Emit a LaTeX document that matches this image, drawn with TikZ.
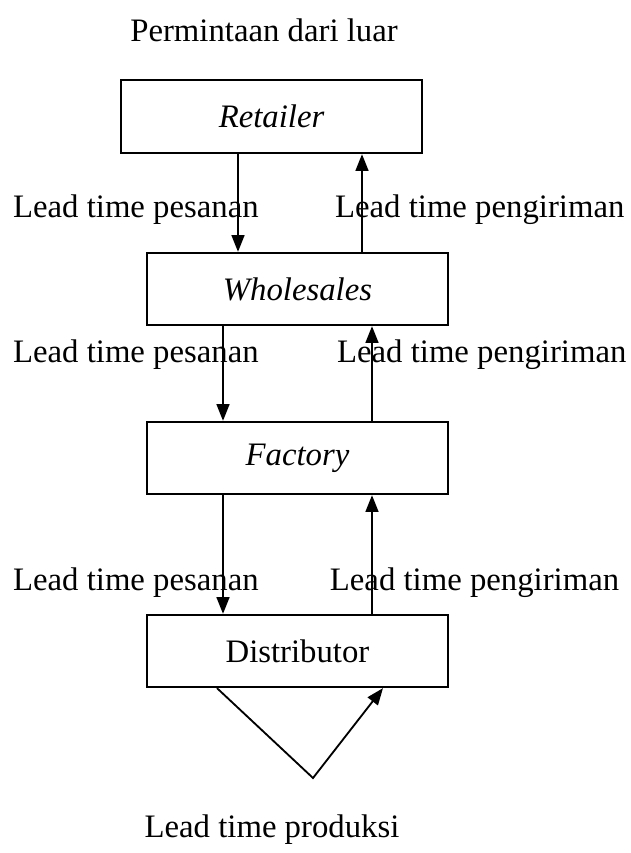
\documentclass[tikz,border=0pt]{standalone}
\usepackage{fontspec}
\setmainfont{Liberation Serif}
\usetikzlibrary{arrows.meta}
\begin{document}
\begin{tikzpicture}[line width=1.6pt,>={Triangle[length=0.42cm,width=0.32cm]},
  every node/.style={font=\fontsize{23.3}{28}\selectfont},
  box/.style={rectangle,draw,inner sep=0pt,minimum width=7.525cm,minimum height=1.8cm},
  lbl/.style={inner sep=0pt,anchor=west}]
\useasboundingbox (0,0) rectangle (15.775,-21.325);
\node (demand) at (6.6,-0.75) {Permintaan dari luar};
\node[box,minimum height=1.825cm] (retailer) at (6.79,-2.9125) {\textit{Retailer}};
\node[box] (wholesales) at (7.4375,-7.225) {\textit{Wholesales}};
\node[box] (factory) at (7.4375,-11.45) {\textit{Factory}};
\node[box] (distributor) at (7.4375,-16.275) {Distributor};
% x positions of the arrows
\coordinate (down1) at (5.95,0);
\coordinate (up1) at (9.05,0);
\coordinate (down2) at (5.575,0);
\coordinate (up2) at (9.3,0);
% labels
\node[lbl] (order1) at (0.3,-5.25) {Lead time pesanan};
\node[lbl] (ship1) at (8.35,-5.25) {Lead time pengiriman};
\node[lbl] (order2) at (0.3,-8.875) {Lead time pesanan};
\node[lbl] (ship2) at (8.4,-8.875) {Lead time pengiriman};
\node[lbl] (order3) at (0.3,-14.575) {Lead time pesanan};
\node[lbl] (ship3) at (8.22,-14.575) {Lead time pengiriman};
\node (production) at (6.8,-20.75) {Lead time produksi};
\draw[->] (retailer.south -| down1) -- (wholesales.north -| down1);
\draw[->] (wholesales.north -| up1) -- (retailer.south -| up1);
\draw[->] (wholesales.south -| down2) -- (factory.north -| down2);
\draw[->] (factory.north -| up2) -- (wholesales.south -| up2);
\draw[->] (factory.south -| down2) -- (distributor.north -| down2);
\draw[->] (distributor.north -| up2) -- (factory.south -| up2);
% production loop
\coordinate (loopleft) at (5.425,0);
\coordinate (loopright) at (9.575,0);
\coordinate (loopbottom) at (7.825,-19.45);
\draw[->,line width=1.3pt] (distributor.south -| loopleft) -- (loopbottom) -- (distributor.south -| loopright);
\end{tikzpicture}
\end{document}
